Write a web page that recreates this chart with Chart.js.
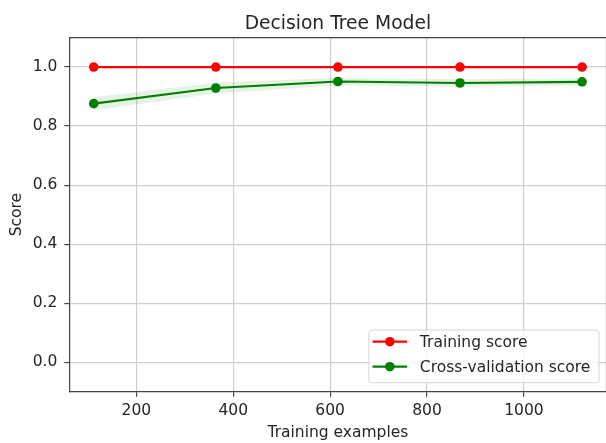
<!DOCTYPE html>
<html>
<head>
<meta charset="utf-8">
<title>Decision Tree Model</title>
<script src="https://cdn.jsdelivr.net/npm/chart.js@4.4.1/dist/chart.umd.min.js"></script>
<style>
  html, body { margin: 0; padding: 0; background: #ffffff; overflow: hidden; }
  #wrap { position: relative; width: 606px; height: 443px; overflow: hidden; background: #ffffff; }
  canvas { display: block; }
</style>
</head>
<body>
<div id="wrap"><canvas id="chart" width="612" height="443"></canvas></div>
<script>
// Learning curve of the decision tree: training vs. cross-validation score
const TRAIN_SIZES = [112, 364, 616, 868, 1120];
const TRAIN_MEAN  = [1.0, 1.0, 1.0, 1.0, 1.0];
const TRAIN_STD   = [0.0, 0.0, 0.0, 0.0, 0.0];
const CV_MEAN     = [0.876, 0.929, 0.951, 0.946, 0.950];
const CV_STD      = [0.022, 0.019, 0.013, 0.013, 0.012];

const X_TICKS = [200, 400, 600, 800, 1000];
const Y_TICKS = [0.0, 0.2, 0.4, 0.6, 0.8, 1.0];
const Y_LIMITS = [-0.1, 1.1];

const TITLE = 'Decision Tree Model';
const X_LABEL = 'Training examples';
const Y_LABEL = 'Score';
const LABEL_TRAIN = 'Training score';
const LABEL_CV = 'Cross-validation score';

const FONT = 'DejaVu Sans';
const TEXT_COLOR = '#262626';
const RED = '#ff0000';
const GREEN = '#008000';

// x limits padded by 5% of the data span on each side
const span = TRAIN_SIZES[TRAIN_SIZES.length - 1] - TRAIN_SIZES[0];
const X_MIN = TRAIN_SIZES[0] - 0.05 * span;
const X_MAX = TRAIN_SIZES[TRAIN_SIZES.length - 1] + 0.05 * span;

const pts = (ys) => TRAIN_SIZES.map((x, i) => ({ x: x, y: ys[i] }));
const band = (mean, std, sign) => mean.map((m, i) => m + sign * std[i]);

// white page behind the plot
const paper = {
  id: 'paper',
  beforeDraw(chart) {
    const { ctx, width, height } = chart;
    ctx.save();
    ctx.fillStyle = '#ffffff';
    ctx.fillRect(0, 0, width, height);
    ctx.restore();
  }
};

// top/right spines around the plotting area
const frame = {
  id: 'frame',
  beforeDatasetsDraw(chart) {
    const { ctx, chartArea: a } = chart;
    ctx.save();
    ctx.strokeStyle = '#444444';
    ctx.lineWidth = 1.2;
    ctx.beginPath();
    ctx.moveTo(a.left, a.top);
    ctx.lineTo(a.right, a.top);
    ctx.lineTo(a.right, a.bottom);
    ctx.stroke();
    ctx.restore();
  }
};

// legend box in the lower right corner of the plotting area
const cornerLegend = {
  id: 'cornerLegend',
  afterDatasetsDraw(chart) {
    const { ctx, chartArea: a } = chart;
    const items = chart.data.datasets.filter(d => d.showInLegend);
    ctx.save();
    ctx.font = '15.5px "' + FONT + '"';
    const w = Math.max(...items.map(d => ctx.measureText(d.label).width));
    const right = a.right - 7.5;
    const bottom = a.bottom - 9;
    const rowH = 25;
    const height = 52.7;
    const left = right - (51 + w + 8.6);
    const top = bottom - height;
    ctx.fillStyle = 'rgba(255,255,255,0.8)';
    ctx.strokeStyle = 'rgba(204,204,204,0.8)';
    ctx.lineWidth = 1;
    ctx.beginPath();
    ctx.roundRect(left, top, right - left, height, 3);
    ctx.fill();
    ctx.stroke();
    items.forEach((d, i) => {
      const y = top + 11.7 + i * rowH;
      const x0 = left + 3.7, x1 = left + 38.3;
      ctx.strokeStyle = d.borderColor;
      ctx.lineWidth = 2.2;
      ctx.beginPath();
      ctx.moveTo(x0, y);
      ctx.lineTo(x1, y);
      ctx.stroke();
      ctx.fillStyle = d.borderColor;
      ctx.beginPath();
      ctx.arc((x0 + x1) / 2, y, 4.8, 0, Math.PI * 2);
      ctx.fill();
      ctx.fillStyle = TEXT_COLOR;
      ctx.textBaseline = 'middle';
      ctx.textAlign = 'left';
      ctx.fillText(d.label, left + 51, y + 1);
    });
    ctx.restore();
  }
};

const lineStyle = (color) => ({
  borderColor: color,
  backgroundColor: color,
  borderWidth: 2.2,
  pointRadius: 4.8,
  pointHoverRadius: 4.8,
  pointBorderWidth: 0,
  pointBackgroundColor: color,
  fill: false,
  tension: 0
});

const bandStyle = {
  borderWidth: 0,
  pointRadius: 0,
  pointHoverRadius: 0,
  tension: 0
};

new Chart(document.getElementById('chart'), {
  type: 'line',
  data: {
    datasets: [
      Object.assign({ label: 'train upper', data: pts(band(TRAIN_MEAN, TRAIN_STD, 1)), fill: false, order: 4 }, bandStyle),
      Object.assign({ label: 'train lower', data: pts(band(TRAIN_MEAN, TRAIN_STD, -1)), fill: '-1', backgroundColor: 'rgba(255,0,0,0.1)', order: 4 }, bandStyle),
      Object.assign({ label: 'cv upper', data: pts(band(CV_MEAN, CV_STD, 1)), fill: false, order: 3 }, bandStyle),
      Object.assign({ label: 'cv lower', data: pts(band(CV_MEAN, CV_STD, -1)), fill: '-1', backgroundColor: 'rgba(0,128,0,0.1)', order: 3 }, bandStyle),
      Object.assign({ label: LABEL_TRAIN, data: pts(TRAIN_MEAN), order: 2, showInLegend: true }, lineStyle(RED)),
      Object.assign({ label: LABEL_CV, data: pts(CV_MEAN), order: 1, showInLegend: true }, lineStyle(GREEN))
    ]
  },
  options: {
    responsive: false,
    animation: false,
    events: [],
    // the canvas is a little wider than the page, so the right spine falls just outside it
    layout: { padding: { left: 0, right: 5.5, top: 0, bottom: 0 } },
    plugins: {
      legend: { display: false },
      tooltip: { enabled: false },
      title: {
        display: true,
        fullSize: false,
        text: TITLE,
        color: TEXT_COLOR,
        font: { family: FONT, size: 18.7, weight: 'normal' },
        padding: { top: 12.6, bottom: 2.5 }
      }
    },
    scales: {
      x: {
        type: 'linear',
        min: X_MIN,
        max: X_MAX,
        afterBuildTicks: (s) => { s.ticks = X_TICKS.map(v => ({ value: v })); },
        afterFit: (s) => { s.height = 51.3; s.paddingLeft = 0; s.paddingRight = 0; },
        ticks: {
          color: TEXT_COLOR,
          font: { family: FONT, size: 15.5 },
          padding: 5,
          maxRotation: 0,
          callback: (v) => String(v)
        },
        grid: {
          color: '#cfcfcf',
          lineWidth: 1.2,
          drawTicks: true,
          tickLength: 5,
          tickColor: '#444444',
          tickWidth: 1.2
        },
        border: { display: true, color: '#444444', width: 1.2 },
        title: {
          display: true,
          text: X_LABEL,
          color: TEXT_COLOR,
          font: { family: FONT, size: 15.5 },
          padding: { top: 0, bottom: 1 }
        }
      },
      y: {
        type: 'linear',
        min: Y_LIMITS[0],
        max: Y_LIMITS[1],
        afterBuildTicks: (s) => { s.ticks = Y_TICKS.map(v => ({ value: v })); },
        afterFit: (s) => { s.width = 69.3; s.paddingTop = 0; s.paddingBottom = 0; },
        ticks: {
          color: TEXT_COLOR,
          font: { family: FONT, size: 15.5 },
          padding: 7,
          callback: (v) => Number(v).toFixed(1)
        },
        grid: {
          color: '#cfcfcf',
          lineWidth: 1.2,
          drawTicks: true,
          tickLength: 5,
          tickColor: '#444444',
          tickWidth: 1.2
        },
        border: { display: true, color: '#444444', width: 1.2 },
        title: {
          display: true,
          text: Y_LABEL,
          color: TEXT_COLOR,
          font: { family: FONT, size: 15.5 },
          padding: { top: 8, bottom: 0 }
        }
      }
    }
  },
  plugins: [paper, frame, cornerLegend]
});
</script>
</body>
</html>
